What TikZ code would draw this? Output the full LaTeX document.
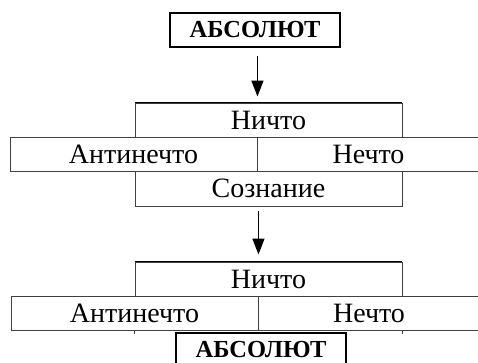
\documentclass[tikz,border=0pt]{standalone}
\usepackage{fontspec}
\setmainfont{Liberation Serif}
\usetikzlibrary{arrows.meta}
\tikzset{
  cell/.style={draw=black!75, line width=0.9pt, inner sep=0pt, minimum height=34pt,
    font=\fontsize{28}{30}\selectfont},
  absbox/.style={draw=black, line width=1.4pt, fill=white, inner sep=0pt, minimum width=170pt,
    minimum height=34pt, font=\fontsize{24.5}{28}\selectfont\bfseries},
  arr/.style={line width=1.4pt, -{Triangle[length=16pt,width=12pt]}},
  topedge/.style={line width=1.8pt},
  tick/.style={draw=black!75, line width=0.9pt}
}
\begin{document}
\begin{tikzpicture}[x=1pt,y=-1pt]
\clip (0,0) rectangle (478,363);
\fill[white] (0,0) rectangle (478,363);
% top absolute
\node[absbox] (abs1) at (255,30) {АБСОЛЮТ};
% upper structure
\node[cell, minimum width=267pt] (n1) at (268.5,120) {Ничто};
\node[cell, minimum width=247pt] (anti1) at (133.5,154) {Антинечто};
\node[cell, minimum width=223pt] (nechto1) at (368.5,154) {Нечто};
\node[cell, minimum width=267pt, minimum height=35pt] (soz) at (268.5,188.5) {Сознание};
\draw[topedge] (n1.north west) -- (n1.north east);
% lower structure
\node[cell, minimum width=267pt] (n2) at (268.5,279) {Ничто};
\node[cell, minimum width=247pt] (anti2) at (134.5,313) {Антинечто};
\node[cell, minimum width=222pt] (nechto2) at (369,313) {Нечто};
\draw[topedge] (n2.north west) -- (n2.north east);
\draw[tick] (anti2.south -| n2.west) -- ([yshift=-4pt]anti2.south -| n2.west);
\draw[tick] (nechto2.south -| n2.east) -- ([yshift=-4pt]nechto2.south -| n2.east);
% bottom absolute
\node[absbox] (abs2) at (261,350) {АБСОЛЮТ};
% arrows
\draw[arr] ([yshift=-8pt]abs1.south -| anti1.east) -- ([yshift=6pt]n1.north -| anti1.east);
\draw[arr] ([yshift=-5pt]soz.south -| anti2.east) -- ([yshift=7pt]n2.north -| anti2.east);
\end{tikzpicture}
\end{document}
